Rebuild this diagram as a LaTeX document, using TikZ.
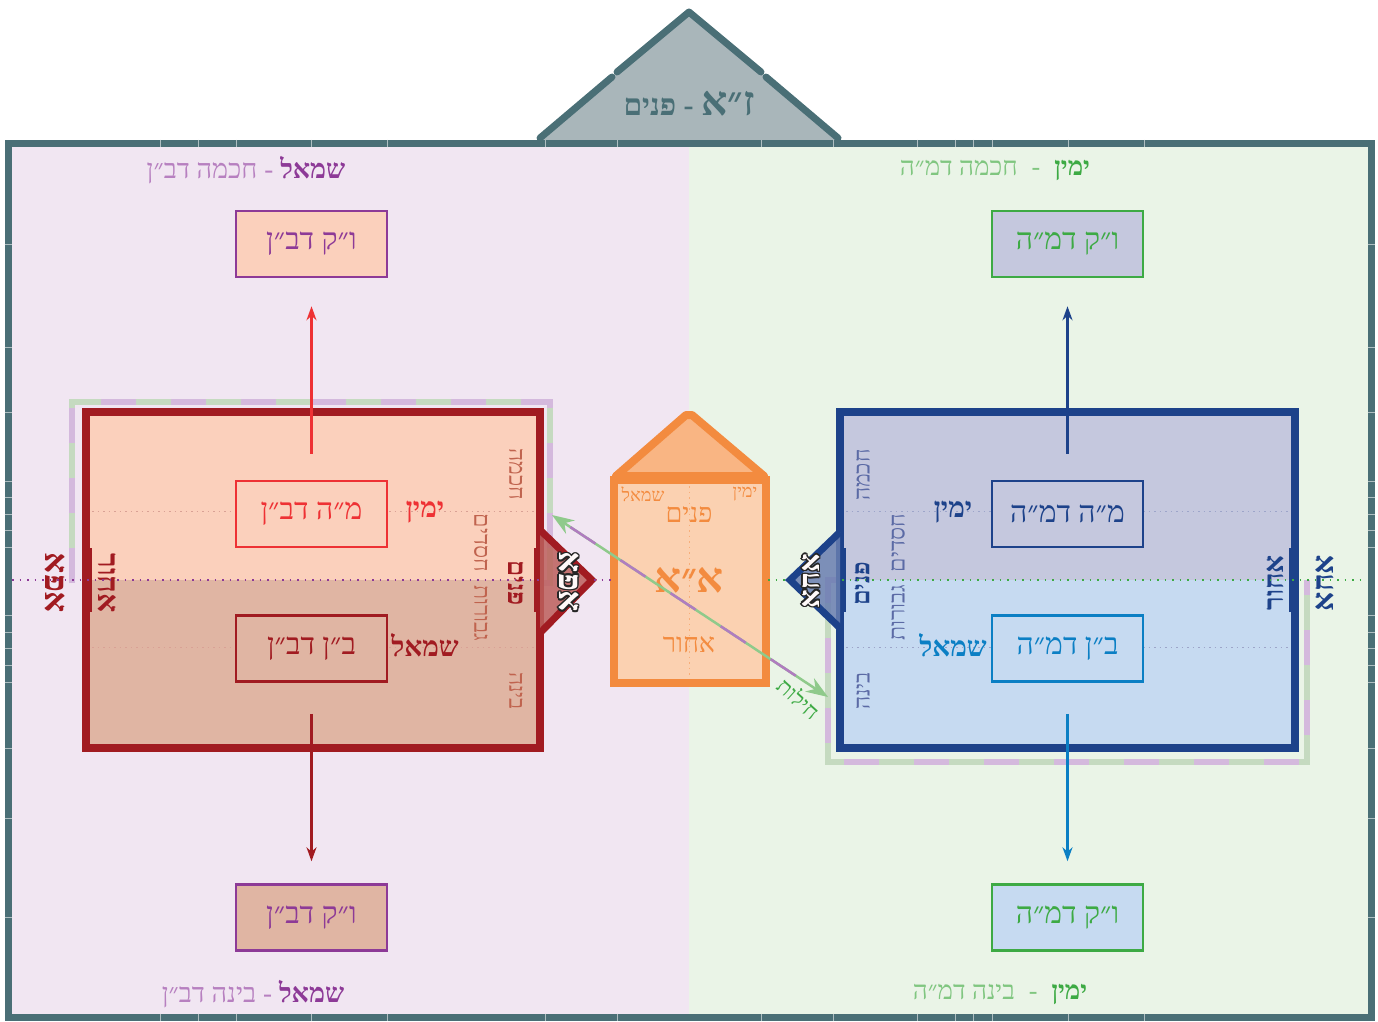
\documentclass[tikz,border=0pt]{standalone}
\usepackage{fontspec}
\usetikzlibrary{arrows.meta,calc}
\TeXXeTstate=1
\newfontfamily\hebfont[Script=Hebrew]{Liberation Serif}
\newcommand\heb[1]{{\hebfont\beginR #1\endR}}
\newcommand\fsz[1]{\fontsize{#1}{#1}\selectfont}
\definecolor{frameC}{HTML}{4A6F76}
\definecolor{roofC}{HTML}{A9B6BA}
\definecolor{lavC}{HTML}{F1E6F2}
\definecolor{lgrC}{HTML}{EAF4E7}
\definecolor{purD}{HTML}{8D3A97}
\definecolor{purL}{HTML}{B780C0}
\definecolor{grnD}{HTML}{3DAA44}
\definecolor{grnL}{HTML}{80C680}
\definecolor{peachC}{HTML}{FBD0BC}
\definecolor{peachD}{HTML}{E0B5A3}
\definecolor{redB}{HTML}{EE3134}
\definecolor{redD}{HTML}{A11B21}
\definecolor{redS}{HTML}{C0634E}
\definecolor{oraC}{HTML}{F38B3F}
\definecolor{oraF}{HTML}{FBD1B1}
\definecolor{oraR}{HTML}{F9B583}
\definecolor{bluD}{HTML}{1D428A}
\definecolor{bluL}{HTML}{0B7FC4}
\definecolor{bluF1}{HTML}{C5C8DE}
\definecolor{bluF2}{HTML}{C6DAF1}
\definecolor{bluS}{HTML}{5B6AA5}
\definecolor{dashP}{HTML}{D4B9DD}
\definecolor{dashG}{HTML}{C5DAC0}
\definecolor{arrG}{HTML}{8FCA8B}
\definecolor{arrP}{HTML}{B07CC0}
% two-colour label: #1 dark colour, #2 light colour, #3 bold part (right), #4 light part (left), #5 gap
\newcommand\twolabel[5]{{\color{#2}#4}\hspace{#5}{\color{#2}\hebfont -}\hspace{#5}{\color{#1}\bfseries #3}}
\newcommand\outlined[5]{%
  \foreach \a in {0,30,...,330}
    \node[rotate=#2, text=black!85, font=#4, inner sep=0pt] (#5\a) at ($(#1)+(\a:1.5)$) {#3};
  \node[rotate=#2, text=white!90!pink, font=#4, inner sep=0pt] (#5) at (#1) {#3};}
\begin{document}
\begin{tikzpicture}[x=1pt,y=-1pt,
  vbox/.style={draw, line width=2.5pt, minimum width=151pt, minimum height=66pt, inner sep=0pt, font=\fsz{30}},
  lbl/.style={inner sep=0pt, font=\fsz{27}},
  side/.style={inner sep=0pt, font=\fsz{28}\bfseries},
  vsmall/.style={inner sep=0pt, font=\fsz{23}},
  vbig/.style={inner sep=0pt, font=\fsz{26}\bfseries},
  conn/.style={line width=2.5pt, -{Stealth[length=14pt,width=10pt]}},
  dotline/.style={line width=1pt, dash pattern=on 1.5pt off 4pt},
  tick/.style={frameC!45!white, line width=0.8pt}
]
\useasboundingbox (0,0) rectangle (1378,1021);
% backgrounds
\fill[lavC] (8,143) rectangle (689,1017);
\fill[lgrC] (689,143) rectangle (1371,1017);
% roof
\fill[roofC] (540,140) -- (689,12) -- (838,140) -- cycle;
\draw[frameC, line width=7pt, line cap=round] (540,138) -- (612,77);
\draw[frameC, line width=7pt, line cap=round, line join=round] (617,72) -- (689,12) -- (761,72);
\draw[frameC, line width=7pt, line cap=round] (766,77) -- (838,138);
\node[inner sep=0pt, text=frameC, font=\fsz{30}\bfseries] (zaTitle) at (689,104) {\heb{{\fsz{41}ז״א} - פנים}};
% frame
\draw[frameC, line width=7pt] (8,143) rectangle (1371,1017);
\foreach \t in {160,198,236,311,387,545,617,761,833,917,955,973,992,1068,1144}{
  \draw[tick] (\t,139.5) -- (\t,146.5);
  \draw[tick] (\t,1013.5) -- (\t,1020.5);}
\foreach \t in {244,347,412,481,497,514,530,547,615,632,648,665,682,748,818,917}{
  \draw[tick] (4.5,\t) -- (11.5,\t);
  \draw[tick] (1367.5,\t) -- (1374.5,\t);}

% top / bottom labels
\node[lbl] (lblTL) at (246,170) {\twolabel{purD}{purL}{\heb{שמאל}}{\heb{חכמה דב״ן}}{7pt}};
\node[lbl] (lblBL) at (253,994) {\twolabel{purD}{purL}{\heb{שמאל}}{\heb{בינה דב״ן}}{7pt}};
\node[lbl, font=\fsz{26}] (lblTR) at (995,170) {\twolabel{grnD}{grnL}{\heb{ימין}}{\heb{חכמה דמ״ה}}{14pt}};
\node[lbl, font=\fsz{26}] (lblBR) at (1000,994) {\twolabel{grnD}{grnL}{\heb{ימין}}{\heb{בינה דמ״ה}}{14pt}};

% dashed outlines
\draw[dashG, line width=6pt] (72,583) -- (72,402) -- (550,402) -- (550,583) -- (540,583);
\draw[dashP, line width=6pt, dash pattern=on 35pt off 35pt] (72,583) -- (72,402) -- (550,402) -- (550,583) -- (540,583);
\draw[dashG, line width=6pt] (840,580) -- (828,580) -- (828,762) -- (1307,762) -- (1307,580);
\draw[dashP, line width=6pt, dash pattern=on 35pt off 35pt] (840,580) -- (828,580) -- (828,762) -- (1307,762) -- (1307,580);

% red box
\fill[peachC] (86,412) rectangle (540,580);
\fill[peachD] (86,580) rectangle (540,748);
\draw[redD, line width=8pt] (86,412) rectangle (540,748);
\draw[redD, line width=10pt] (87,548) -- (87,612);
\draw[redD, line width=10pt] (539,548) -- (539,612);
\draw[redS!60, dotline] (92,511) -- (535,511);
\draw[redS!60, dotline] (92,647) -- (535,647);

% blue box
\fill[bluF1] (840,412) rectangle (1295,580);
\fill[bluF2] (840,580) rectangle (1295,748);
\draw[bluD, line width=8pt] (840,412) rectangle (1295,748);
\draw[bluD, line width=10pt] (841,548) -- (841,612);
\draw[bluD, line width=10pt] (1294,548) -- (1294,612);
\draw[bluS!60, dotline] (846,511) -- (1289,511);
\draw[bluS!60, dotline] (846,647) -- (1289,647);

% boxes left
\node[vbox, draw=purD, fill=peachC, text=purD] (vkTL) at (311.5,244) {\heb{ו״ק דב״ן}};
\node[vbox, draw=redB, fill=peachC, text=redB] (mhL) at (311.5,514) {\heb{מ״ה דב״ן}};
\node[vbox, draw=redD, fill=peachD, text=redD] (bnL) at (311.5,648.5) {\heb{ב״ן דב״ן}};
\node[vbox, draw=purD, fill=peachD, text=purD] (vkBL) at (311.5,917.5) {\heb{ו״ק דב״ן}};
% boxes right
\node[vbox, draw=grnD, fill=bluF1, text=grnD] (vkTR) at (1067.5,244) {\heb{ו״ק דמ״ה}};
\node[vbox, draw=bluD, fill=bluF1, text=bluD] (mhR) at (1067.5,514) {\heb{מ״ה דמ״ה}};
\node[vbox, draw=bluL, fill=bluF2, text=bluL] (bnR) at (1067.5,648.5) {\heb{ב״ן דמ״ה}};
\node[vbox, draw=grnD, fill=bluF2, text=grnD] (vkBR) at (1067.5,917.5) {\heb{ו״ק דמ״ה}};

% arrows
\draw[conn, redB, shorten <=26pt, shorten >=28pt] (mhL.north) -- (vkTL.south);
\draw[conn, redD, shorten <=31pt, shorten >=22pt] (bnL.south) -- (vkBL.north);
\draw[conn, bluD, shorten <=26pt, shorten >=28pt] (mhR.north) -- (vkTR.south);
\draw[conn, bluL, shorten <=31pt, shorten >=22pt] (bnR.south) -- (vkBR.north);

% side labels
\node[side, text=redB] (yaminL) at (425,512) {\heb{ימין}};
\node[side, text=redD] (smolL) at (425,645) {\heb{שמאל}};
\node[side, text=bluD] (yaminR) at (953,512) {\heb{ימין}};
\node[side, text=bluL] (smolR) at (953,645) {\heb{שמאל}};

% vertical texts red
\node[vsmall, text=redS, rotate=-90] (rHoch) at (516,474) {\heb{חכמה}};
\node[vsmall, text=redS, rotate=-90] (rHes) at (481,543) {\heb{חסדים}};
\node[vsmall, text=redS, rotate=-90] (rGev) at (481,613) {\heb{גבורות}};
\node[vsmall, text=redS, rotate=-90] (rBin) at (516,691) {\heb{בינה}};
\node[vbig, text=redD, rotate=-90] (rPan) at (516,583) {\heb{פנים}};
\node[vbig, font=\fsz{30}\bfseries, text=redD, rotate=-90] (rAh) at (107,583) {\heb{אחור}};
\node[vbig, font=\fsz{33}\bfseries, text=redD, rotate=-90] (rAfa) at (55,583) {\heb{אפא}};
% vertical texts blue
\node[vsmall, text=bluS, rotate=90] (bHoch) at (863,475) {\heb{חכמה}};
\node[vsmall, text=bluS, rotate=90] (bHes) at (898,543) {\heb{חסדים}};
\node[vsmall, text=bluS, rotate=90] (bGev) at (898,613) {\heb{גבורות}};
\node[vsmall, text=bluS, rotate=90] (bBin) at (863,691) {\heb{בינה}};
\node[vbig, font=\fsz{25}\bfseries, text=bluD, rotate=90] (bPan) at (862,584) {\heb{פנים}};
\node[vbig, font=\fsz{28}\bfseries, text=bluD, rotate=90] (bAh) at (1275,583) {\heb{אחור}};
\node[vbig, font=\fsz{30}\bfseries, text=bluD, rotate=90] (bAha) at (1325,583) {\heb{אחא}};

% triangles
\fill[redD!55!peachD, opacity=0.85] (540,530) -- (592,580) -- (540,633) -- cycle;
\draw[redD, line width=7pt, line join=miter] (540,530) -- (592,580) -- (540,633);
\fill[bluD!55!bluF1, opacity=0.85] (840,532) -- (790,580) -- (840,628) -- cycle;
\draw[bluD, line width=7pt, line join=miter] (840,532) -- (790,580) -- (840,628);
\coordinate (triR) at (569,582);
\coordinate (triB) at (811,581);
\outlined{triR}{-90}{\heb{אפא}}{\fsz{33}\bfseries}{tR}
\outlined{triB}{90}{\heb{אחא}}{\fsz{29}\bfseries}{tB}

% orange house
\filldraw[fill=oraR, draw=oraC, line width=8pt, line join=round] (616,476) -- (686,415) -- (692,415) -- (764,476) -- cycle;
\filldraw[fill=oraF, draw=oraC, line width=8pt] (614,480) rectangle (766,683);
\draw[oraC, line width=8pt] (610,480) -- (770,480);
\draw[oraC!70, dotline] (689,486) -- (689,678);
\node[inner sep=0pt, text=oraC, font=\fsz{18}] (aaSmol) at (643,494) {\heb{שמאל}};
\node[inner sep=0pt, text=oraC, font=\fsz{18}] (aaYamin) at (745,494) {\heb{ימין}};
\node[inner sep=0pt, text=oraC, font=\fsz{27}] (aaPan) at (689,515) {\heb{פנים}};
\node[inner sep=0pt, text=oraC, font=\fsz{42}\bfseries] (aaMain) at (689,580) {\heb{א״א}};
\node[inner sep=0pt, text=oraC, font=\fsz{27}] (aaAh) at (689,645) {\heb{אחור}};

% center dotted line
\draw[purD, line width=1.5pt, dash pattern=on 1.5pt off 6pt] (12,580) -- (540,580);
\draw[purD, line width=1.5pt, dash pattern=on 1.5pt off 6pt] (594,580) -- (612,580);
\draw[grnD, line width=1.5pt, dash pattern=on 1.5pt off 6pt] (768,580) -- (788,580);
\draw[grnD, line width=1.5pt, dash pattern=on 1.5pt off 6pt] (842,580) -- (1367,580);

% diagonal arrow
\coordinate (dA) at (552,515);
\coordinate (dB) at (828,697);
\draw[arrG, line width=2.5pt, {Stealth[length=22pt,width=16pt]}-{Stealth[length=22pt,width=16pt]}] (dA) -- (dB);
\draw[arrP, line width=2.5pt, dash pattern=on 30pt off 30pt, shorten <=22pt, shorten >=22pt] (dA) -- (dB);
\node[inner sep=0pt, text=grnD, font=\fsz{22}, rotate=-42] (hilot) at (799,698) {\heb{חילות}};
\end{tikzpicture}
\end{document}
